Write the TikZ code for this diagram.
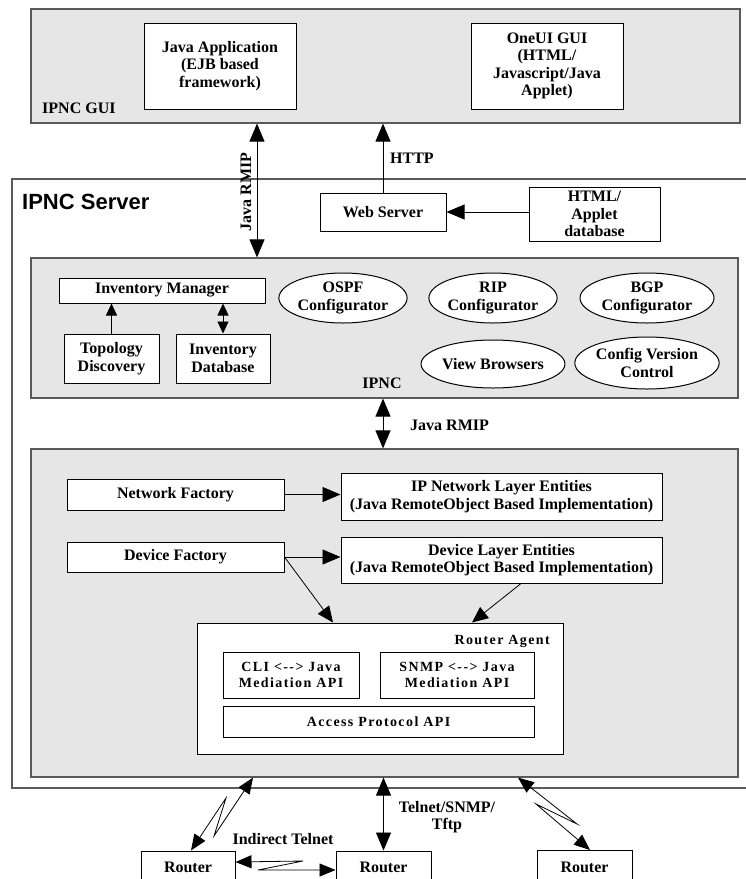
\documentclass[tikz,border=0pt]{standalone}
\usepackage{fontspec}
\setmainfont{Liberation Serif}
\newfontfamily\spacedfont[LetterSpace=10]{Liberation Serif}
\newfontfamily\headsans{Liberation Sans}
\usetikzlibrary{shapes.geometric,arrows.meta}
\definecolor{panelgray}{HTML}{E6E6E6}
\definecolor{edgegray}{HTML}{5A5A5A}
\begin{document}
\begin{tikzpicture}[x=1pt,y=-1pt,
  txt/.style={font=\bfseries\fontsize{16}{17.5}\selectfont, align=center, inner sep=0pt},
  stxt/.style={font=\spacedfont\bfseries\fontsize{14}{16.5}\selectfont, align=center, inner sep=0pt},
  panel/.style={draw=edgegray, fill=panelgray, line width=1.2pt, inner sep=0pt},
  server/.style={draw=edgegray, line width=1.2pt, inner sep=0pt},
  box/.style={txt, draw=black, fill=white, line width=1pt},
  sbox/.style={stxt, draw=black, fill=white, line width=1pt},
  oval/.style={txt, ellipse, draw=black, fill=white, line width=1pt},
  arr/.style={-{Triangle[length=18pt,width=15pt]}, line width=0.9pt},
  dbl/.style={{Triangle[length=18pt,width=15pt]}-{Triangle[length=18pt,width=15pt]}, line width=0.9pt},
  sarr/.style={-{Triangle[length=12pt,width=11pt]}, line width=0.9pt},
  sdbl/.style={{Triangle[length=12pt,width=11pt]}-{Triangle[length=12pt,width=11pt]}, line width=0.9pt},
  darr/.style={-{Triangle[length=16pt,width=14pt]}, line width=0.8pt},
  zdbl/.style={{Triangle[length=16pt,width=13pt]}-{Triangle[length=16pt,width=13pt]}, line width=0.8pt},
]
\useasboundingbox (0,0) rectangle (746,879);
\clip (0,0) rectangle (746,879);
\fill[white] (0,0) rectangle (746,879);

% outer server frame
\node[server, minimum width=760, minimum height=609] (server) at (392,483.5) {};
% IPNC GUI panel
\node[panel, minimum width=709, minimum height=114] (gui) at (385.5,66) {};
\node[txt, anchor=west] (guilbl) at (42,108) {IPNC GUI};
\node[box, minimum width=152, minimum height=86] (javaapp) at (220,66) {Java Application\\(EJB based\\framework)};
\node[box, minimum width=152, minimum height=86] (oneui) at (547,66) {OneUI GUI\\(HTML/\\Javascript/Java\\Applet)};

% server
\node[font=\headsans\bfseries\fontsize{22}{26}\selectfont, anchor=west, inner sep=0pt] (srvlbl) at (22,202) {IPNC Server};
\node[box, minimum width=126, minimum height=38] (web) at (383,212) {Web Server};
\node[box, minimum width=131, minimum height=54] (htmldb) at (594.5,214) {HTML/\\Applet\\database};

% IPNC panel
\node[panel, minimum width=707, minimum height=140] (ipnc) at (384.5,328) {};
\node[box, minimum width=206, minimum height=25] (invmgr) at (162,290.5) {Inventory Manager};
\node[box, minimum width=95, minimum height=49] (topo) at (111.5,358.5) {Topology\\Discovery};
\node[box, minimum width=94, minimum height=49] (invdb) at (223,358.5) {Inventory\\Database};
\node[oval, minimum width=128, minimum height=50] (ospf) at (343,298) {OSPF\\Configurator};
\node[oval, minimum width=128, minimum height=50] (rip) at (493,298) {RIP\\Configurator};
\node[oval, minimum width=134, minimum height=50] (bgp) at (647,298) {BGP\\Configurator};
\node[oval, minimum width=128, minimum height=48] (view) at (493,364) {View Browsers};
\node[oval, minimum width=134, minimum height=52] (cvc) at (647,363) {Config Version\\Control};
\node[txt] (ipnclbl) at (382,383) {IPNC};

% lower panel
\node[panel, minimum width=707, minimum height=328] (lower) at (384.5,613) {};
\node[box, minimum width=217, minimum height=31] (netf) at (175.5,494.5) {Network Factory};
\node[box, minimum width=321, minimum height=47] (ipnl) at (501.5,496.5) {IP Network Layer Entities\\(Java RemoteObject Based Implementation)};
\node[box, minimum width=217, minimum height=30] (devf) at (175.5,557) {Device Factory};
\node[box, minimum width=321, minimum height=46] (devl) at (501.5,560) {Device Layer Entities\\(Java RemoteObject Based Implementation)};
\node[box, minimum width=366, minimum height=131] (ragent) at (380,688.5) {};
\node[stxt, anchor=east] (ralbl) at (550,641) {Router Agent};
\node[sbox, minimum width=136, minimum height=46] (cli) at (291,675) {CLI <--> Java\\Mediation API};
\node[sbox, minimum width=154, minimum height=46] (snmp) at (457,675) {SNMP <--> Java\\Mediation API};
\node[sbox, minimum width=311, minimum height=31] (access) at (378.5,721.5) {Access Protocol API};

% routers
\node[box, minimum width=94, minimum height=44] (r1) at (188,873) {};
\node[box, minimum width=95, minimum height=44] (r2) at (383.5,873) {};
\node[box, minimum width=95, minimum height=44] (r3) at (584.5,872.5) {};
\node[txt] (r1t) at (188,867) {Router};
\node[txt] (r2t) at (383.5,867) {Router};
\node[txt] (r3t) at (584.5,867) {Router};

% helper coordinates
\coordinate (rmix) at (257,0);
\coordinate (ra1) at (333,0);
\coordinate (ra2) at (472,0);
\coordinate (dl2) at (521,0);
\coordinate (lz1) at (226,798);
\coordinate (lz2) at (214,836);
\coordinate (lztop) at (253,0);
\coordinate (lzbot) at (191,0);
\coordinate (rz1) at (577,824);
\coordinate (rz2) at (536,804);
\coordinate (rztop) at (518,0);
\coordinate (rzbot) at (590,0);
\coordinate (hz1) at (303,861);
\coordinate (hz2) at (258,870);
\coordinate (hzl) at (0,862);
\coordinate (hzr) at (0,870);

% connectors
\draw[dbl] (gui.south -| rmix) -- (ipnc.north -| rmix);
\node[txt, rotate=90] (rmilbl) at (246,192) {Java RMIP};
\draw[arr] (web.north) -- (gui.south -| web.north);
\node[txt, anchor=west] (httplbl) at (390,158) {HTTP};
\draw[arr] (htmldb.west |- web.east) -- (web.east);
\draw[sarr] (topo.north) -- (invmgr.south -| topo.north);
\draw[sdbl] (invdb.north) -- (invmgr.south -| invdb.north);
\draw[dbl] (ipnc.south -| web) -- (lower.north -| web);
\node[txt, anchor=west] (rmilbl2) at (410,425) {Java RMIP};
\draw[arr] (netf.east) -- (ipnl.west |- netf.east);
\draw[arr] (devf.east) -- (devl.west |- devf.east);
\draw[darr] (devf.east) -- (ragent.north -| ra1);
\draw[darr] (devl.south -| dl2) -- (ragent.north -| ra2);
\draw[dbl] (lower.south -| r2) -- (r2.north);
\node[txt] (tslbl) at (447,817) {Telnet/SNMP/\\Tftp};
\draw[zdbl] (r1.north -| lzbot) -- (lz1) -- (lz2) -- (lower.south -| lztop);
\draw[zdbl] (lower.south -| rztop) -- (rz1) -- (rz2) -- (r3.north -| rzbot);
\draw[zdbl] (r1.east |- hzl) -- (hz1) -- (hz2) -- (r2.west |- hzr);
\node[txt] (itlbl) at (283,839) {Indirect Telnet};
\end{tikzpicture}
\end{document}
